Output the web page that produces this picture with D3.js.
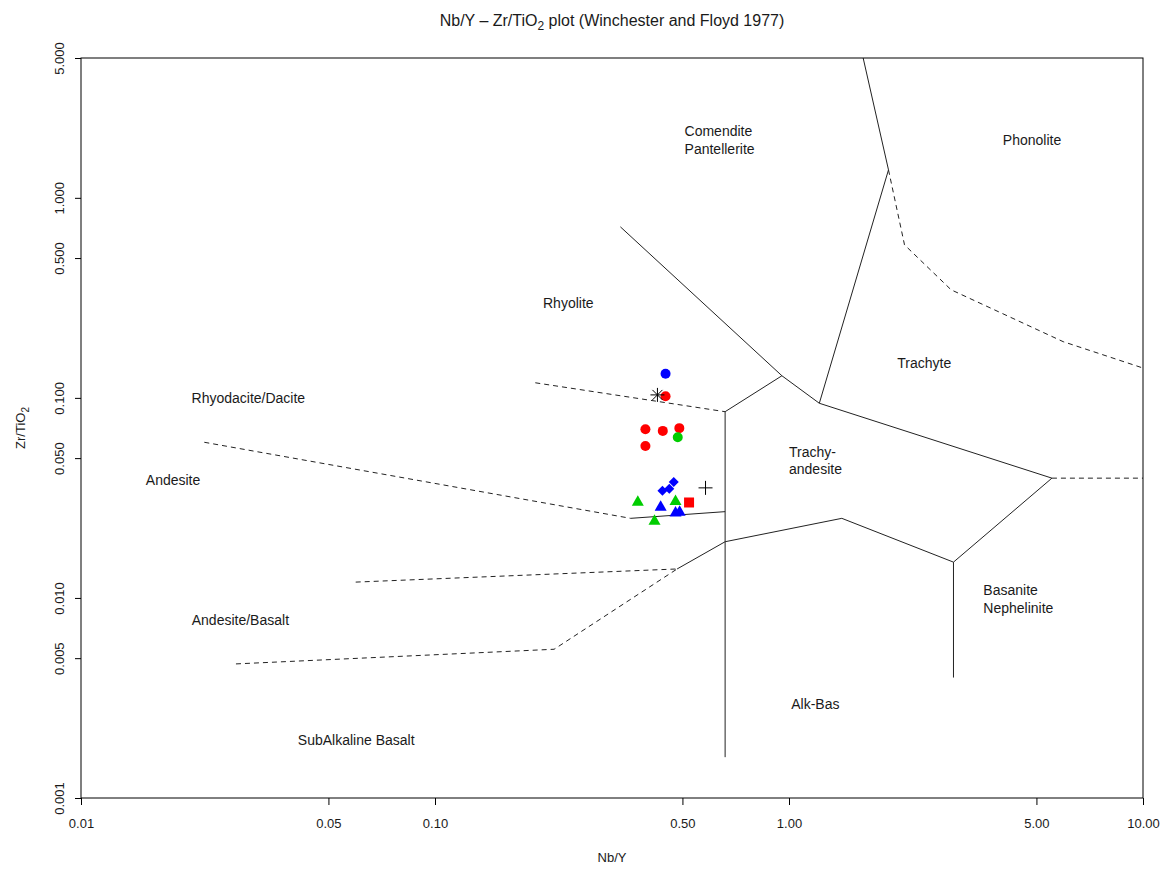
<!DOCTYPE html>
<html>
<head>
<meta charset="utf-8">
<script src="https://cdn.jsdelivr.net/npm/d3@7"></script>
<style>
  body { margin: 0; background: #fff; }
  text { font-family: "Liberation Sans", Arial, sans-serif; fill: #1a1a1a; }
</style>
</head>
<body>
<svg id="chart" width="1167" height="869"></svg>
<script>
// axis ticks
const xTicks = [0.01, 0.05, 0.1, 0.5, 1, 5, 10];
const xTickLabels = ["0.01", "0.05", "0.10", "0.50", "1.00", "5.00", "10.00"];
const yTicks = [0.001, 0.005, 0.01, 0.05, 0.1, 0.5, 1, 5];
const yTickLabels = ["0.001", "0.005", "0.010", "0.050", "0.100", "0.500", "1.000", "5.000"];

// field boundaries, [Nb/Y, Zr/TiO2]
const solidLines = [
  [[0.334, 0.716], [0.955, 0.129], [1.218, 0.094]],
  [[0.955, 0.129], [0.66, 0.0853]],
  [[0.66, 0.0853], [0.66, 0.0016]],
  [[1.62, 5], [1.91, 1.38], [1.218, 0.094], [5.53, 0.0397], [2.915, 0.0151], [2.915, 0.0040]],
  [[2.915, 0.0151], [1.41, 0.025], [0.66, 0.0191], [0.483, 0.01396]],
  [[0.357, 0.025], [0.66, 0.027]]
];
const dashedLines = [
  [[0.192, 0.119], [0.66, 0.0853]],
  [[0.0223, 0.060], [0.357, 0.025]],
  [[0.0597, 0.012], [0.483, 0.01396]],
  [[0.0274, 0.00468], [0.217, 0.00554], [0.483, 0.01396]],
  [[1.91, 1.38], [2.12, 0.582], [2.87, 0.347], [5.95, 0.191], [10, 0.141]],
  [[5.53, 0.0397], [10, 0.0397]]
];

// field names
const fieldNames = ["Comendite", "Pantellerite", "Phonolite", "Rhyolite", "Trachyte", "Rhyodacite/Dacite",
  "Trachy-", "andesite", "Andesite", "Basanite", "Nephelinite", "Andesite/Basalt", "Alk-Bas", "SubAlkaline Basalt"];
const fieldX = [0.507, 0.507, 4.86, 0.238, 2.41, 0.0297, 1.0, 1.0, 0.0182, 3.54, 3.54, 0.0282, 1.187, 0.0599];
const fieldY = [2.16, 1.76, 1.95, 0.2985, 0.1496, 0.1, 0.0537, 0.0442, 0.0389, 0.011, 0.0089, 0.00776, 0.00295, 0.00195];
const fieldAnchor = ["start", "start", "middle", "middle", "middle", "middle", "start", "start", "middle", "start", "start", "middle", "middle", "middle"];

// samples
const sampleX = [0.448, 0.448, 0.393, 0.44, 0.49, 0.393, 0.485, 0.4725, 0.459, 0.439,
  0.374, 0.478, 0.417, 0.434, 0.478, 0.491, 0.522, 0.425, 0.581];
const sampleY = [0.132, 0.102, 0.0697, 0.0684, 0.0706, 0.0575, 0.0636, 0.038, 0.0351, 0.0343,
  0.0303, 0.0305, 0.0243, 0.0286, 0.0267, 0.0270, 0.030, 0.1035, 0.0355];
const sampleShape = ["circle", "circle", "circle", "circle", "circle", "circle", "circle", "diamond", "diamond", "diamond",
  "triangle", "triangle", "triangle", "triangle", "triangle", "triangle", "square", "asterisk", "plus"];
const sampleColour = ["blue", "red", "red", "red", "red", "red", "green", "blue", "blue", "blue",
  "green", "green", "green", "blue", "blue", "blue", "red", "black", "black"];

const colours = { red: "#ff0000", blue: "#0000ff", green: "#00cd00", black: "#000" };

const svg = d3.select("#chart");
const plot = { left: 81, right: 1143, top: 58, bottom: 798 };

const x = d3.scaleLog().domain([0.01, 10]).range([plot.left, plot.right]);
const y = d3.scaleLog().domain([0.001, 5]).range([plot.bottom, plot.top]);

// boundaries
const line = d3.line().x(d => x(d[0])).y(d => y(d[1]));
svg.append("g").selectAll("path").data(solidLines).enter().append("path")
  .attr("d", line).attr("fill", "none").attr("stroke", "#222").attr("stroke-width", 1);
svg.append("g").selectAll("path").data(dashedLines).enter().append("path")
  .attr("d", line).attr("fill", "none").attr("stroke", "#222").attr("stroke-width", 1)
  .attr("stroke-dasharray", "5,4");

// axes
const xAxis = svg.append("g").attr("transform", "translate(0," + plot.bottom + ")")
  .call(d3.axisBottom(x).tickValues(xTicks).tickFormat((d, i) => xTickLabels[i]).tickSize(7).tickSizeOuter(0).tickPadding(14));
xAxis.selectAll("text").style("font-size", "13px").attr("fill", "#1a1a1a");
xAxis.select(".domain").remove();

const yAxis = svg.append("g").attr("transform", "translate(" + plot.left + ",0)")
  .call(d3.axisLeft(y).tickValues(yTicks).tickFormat((d, i) => yTickLabels[i]).tickSize(6).tickSizeOuter(0));
yAxis.select(".domain").remove();
yAxis.selectAll("text")
  .attr("transform", "rotate(-90)")
  .attr("x", 0).attr("y", -17).attr("dy", null)
  .attr("text-anchor", "middle")
  .style("font-size", "13px").attr("fill", "#1a1a1a");

// box
svg.append("rect").attr("x", plot.left).attr("y", plot.top)
  .attr("width", plot.right - plot.left).attr("height", plot.bottom - plot.top)
  .attr("fill", "none").attr("stroke", "#000").attr("stroke-width", 1);

// field labels
svg.append("g").selectAll("text").data(fieldNames).enter().append("text")
  .attr("x", (d, i) => x(fieldX[i]))
  .attr("y", (d, i) => y(fieldY[i]))
  .attr("dy", "0.35em")
  .attr("text-anchor", (d, i) => fieldAnchor[i])
  .style("font-size", "14px")
  .text(d => d);

// samples
const symbolPath = (shape, cx, cy) => {
  switch (shape) {
    case "circle": return `M${cx - 5},${cy}a5,5 0 1,0 10,0a5,5 0 1,0 -10,0Z`;
    case "diamond": return `M${cx},${cy - 5}L${cx + 5},${cy}L${cx},${cy + 5}L${cx - 5},${cy}Z`;
    case "triangle": return `M${cx},${cy - 6.5}L${cx + 6},${cy + 4}L${cx - 6},${cy + 4}Z`;
    case "square": return `M${cx - 5},${cy - 5}h10v10h-10Z`;
    case "plus": return `M${cx - 7},${cy}h14M${cx},${cy - 7}v14`;
    case "asterisk": return `M${cx - 7},${cy}h14M${cx},${cy - 7}v14M${cx - 5},${cy - 5}l10,10M${cx - 5},${cy + 5}l10,-10`;
  }
};
const isLine = s => s === "plus" || s === "asterisk";
svg.append("g").selectAll("path").data(sampleX).enter().append("path")
  .attr("d", (d, i) => symbolPath(sampleShape[i], x(d), y(sampleY[i])))
  .attr("fill", (d, i) => isLine(sampleShape[i]) ? "none" : colours[sampleColour[i]])
  .attr("stroke", (d, i) => isLine(sampleShape[i]) ? colours[sampleColour[i]] : "none")
  .attr("stroke-width", 1);

// titles
const title = svg.append("text").attr("x", (plot.left + plot.right) / 2).attr("y", 26)
  .attr("text-anchor", "middle").style("font-size", "16px");
title.append("tspan").text("Nb/Y \u2013 Zr/TiO");
title.append("tspan").attr("dy", 4).style("font-size", "12px").text("2");
title.append("tspan").attr("dy", -4).text(" plot (Winchester and Floyd 1977)");

svg.append("text").attr("x", (plot.left + plot.right) / 2).attr("y", 862)
  .attr("text-anchor", "middle").style("font-size", "13px").text("Nb/Y");

const ylab = svg.append("text").attr("transform", "translate(25," + ((plot.top + plot.bottom) / 2) + ") rotate(-90)")
  .attr("text-anchor", "middle").style("font-size", "13px");
ylab.append("tspan").text("Zr/TiO");
ylab.append("tspan").attr("dy", 4).style("font-size", "10px").text("2");
</script>
</body>
</html>
